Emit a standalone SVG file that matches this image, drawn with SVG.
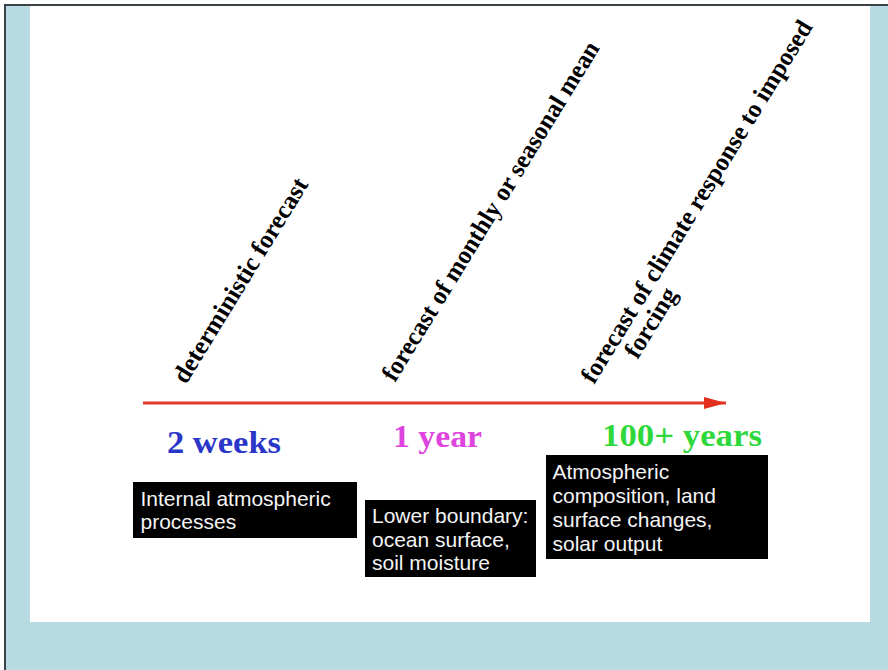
<svg xmlns="http://www.w3.org/2000/svg" width="888" height="670" viewBox="0 0 888 670">
  <defs>
    <style>
      .frame { stroke: #3b4246; stroke-width: 2; fill: none; }
      .axis { stroke: #e3382a; stroke-width: 3; fill: none; }
      .horizon { font-family: "Liberation Serif", "Times New Roman", serif; font-weight: bold; font-size: 25.5px; fill: #000; }
      .scale { font-family: "Liberation Serif", "Times New Roman", serif; font-weight: bold; font-size: 31px; }
      .box { fill: #000; }
      .boxtext { font-family: "Liberation Sans", Arial, sans-serif; font-size: 21px; fill: #f4f4f4; }
    </style>
    <marker id="arrowhead" markerUnits="userSpaceOnUse" markerWidth="24" markerHeight="14" refX="22" refY="6" orient="auto">
      <path d="M0,0 L22,6 L0,12 Z" fill="#e3301e"/>
    </marker>
  </defs>

  <!-- page background and frame -->
  <rect x="0" y="0" width="888" height="670" fill="#ffffff"/>
  <rect x="5" y="5" width="883" height="665" fill="#b8dae3"/>
  <rect x="30" y="6" width="840" height="616" fill="#ffffff"/>
  <path class="frame" d="M5,670 V5 H888"/>

  <!-- timeline -->
  <g id="connectors">
    <line class="axis" x1="143" y1="403" x2="726" y2="403" marker-end="url(#arrowhead)"/>
  </g>

  <!-- forecast horizons -->
  <g id="horizon-deterministic">
    <text class="horizon" transform="translate(186,385) rotate(-58.5)">deterministic forecast</text>
  </g>
  <g id="horizon-seasonal">
    <text class="horizon" transform="translate(395,383) rotate(-58.5)" textLength="393" lengthAdjust="spacingAndGlyphs">forecast of monthly or seasonal mean</text>
  </g>
  <g id="horizon-climate">
    <text class="horizon" transform="translate(594,385) rotate(-58.5)">
      <tspan x="0" y="0" textLength="420" lengthAdjust="spacingAndGlyphs">forecast of climate response to imposed</tspan>
      <tspan x="44" y="24">forcing</tspan>
    </text>
  </g>

  <!-- time scales -->
  <g id="scale-weeks">
    <text class="scale" x="167" y="453" fill="#2a36c8" textLength="114" lengthAdjust="spacingAndGlyphs">2 weeks</text>
  </g>
  <g id="scale-year">
    <text class="scale" x="393" y="447" fill="#de45de" textLength="89" lengthAdjust="spacingAndGlyphs">1 year</text>
  </g>
  <g id="scale-century">
    <text class="scale" x="602" y="446" fill="#2ed83a" textLength="160" lengthAdjust="spacingAndGlyphs">100+ years</text>
  </g>

  <!-- sources of predictability -->
  <g id="source-internal">
    <rect class="box" x="133" y="482" width="224" height="56"/>
    <text class="boxtext">
      <tspan x="140.5" y="506">Internal atmospheric</tspan>
      <tspan x="140.5" y="529">processes</tspan>
    </text>
  </g>
  <g id="source-boundary">
    <rect class="box" x="365" y="500" width="171" height="77"/>
    <text class="boxtext">
      <tspan x="372" y="523">Lower boundary:</tspan>
      <tspan x="372" y="546.5">ocean surface,</tspan>
      <tspan x="372" y="570">soil moisture</tspan>
    </text>
  </g>
  <g id="source-forcing">
    <rect class="box" x="546" y="455" width="222" height="104"/>
    <text class="boxtext">
      <tspan x="552.5" y="479">Atmospheric</tspan>
      <tspan x="552.5" y="503">composition, land</tspan>
      <tspan x="552.5" y="527">surface changes,</tspan>
      <tspan x="552.5" y="551">solar output</tspan>
    </text>
  </g>
</svg>
